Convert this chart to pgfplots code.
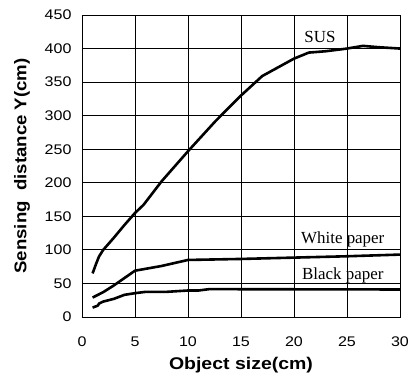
\documentclass[border=0pt]{standalone}
\usepackage{pgfplots}
\pgfplotsset{compat=1.18}
\usepackage{fontspec}
\setmainfont{Liberation Sans}
\newfontfamily\serifnm{Liberation Serif}
\usepackage{graphicx}
\begin{document}
\begin{tikzpicture}
\begin{axis}[
  scale only axis,
  width=318bp, height=302bp,
  at={(0,0)}, anchor=south west,
  xmin=0, xmax=30, ymin=0, ymax=450,
  xtick={0,5,...,30}, ytick={0,50,...,450},
  xmajorgrids=true, ymajorgrids=true,
  major grid style={draw=black, line width=0.8bp},
  axis line style={black, line width=0.8bp},
  tick style={black, line width=0.8bp},
  major tick length=2bp,
  tick align=inside,
  /pgf/number format/assume math mode=true,
  ticklabel style={font=\fontsize{14}{14}\selectfont},
  xticklabel={\scalebox{1.15}[1]{\pgfmathprintnumber{\tick}}},
  yticklabel={\scalebox{1.15}[1]{\pgfmathprintnumber{\tick}}},
  xticklabel style={yshift=-16bp},
  yticklabel style={xshift=-7bp},
  xlabel={\scalebox{1.15}[1]{\bfseries Object size(cm)}},
  ylabel={\scalebox{1.1}[1]{\bfseries Sensing\ \ distance Y(cm)}},
  label style={font=\fontsize{17}{17}\selectfont},
  xlabel style={at={(axis description cs:0.5,-0.159)}, anchor=center},
  ylabel style={at={(axis description cs:-0.1887,0.5)}, anchor=center},
  clip=false,
]
% SUS
\addplot[black, no markers, line width=2.6bp, line join=round] coordinates {
(1,65) (1.3,78) (1.6,90) (2,100) (3,118) (4,137) (5,155) (5.8,167)
(7.5,202) (10,247) (12.6,292) (15,330) (17,359) (18.5,372) (20,385)
(21.4,394) (23,396) (25,400) (26.5,404) (28,402) (30,400)};
% White paper
\addplot[black, no markers, line width=2.6bp, line join=round] coordinates {
(1,29) (2,37) (3,47) (4,58) (5,69) (7.5,76) (10,85) (15,86.5) (20,88.5) (25,90.5) (30,93)};
% Black paper
\addplot[black, no markers, line width=2.6bp, line join=round] coordinates {
(1,14) (1.5,17) (1.6,20) (2,23) (3,27) (4,33) (5,35.5) (6,37.5) (8,37.5) (10,39.5) (11,39.5) (12,41.5) (30,41)};
\node[font=\serifnm\fontsize{17}{17}\selectfont] at (axis cs:22.45,418) {SUS};
\node[font=\serifnm\fontsize{17}{17}\selectfont] at (axis cs:24.6,116) {White paper};
\node[font=\serifnm\fontsize{17}{17}\selectfont] at (axis cs:24.6,62.5) {Black paper};
\end{axis}
\pgfresetboundingbox
\path[use as bounding box] (-82bp,-61bp) rectangle (329bp,317bp);
\end{tikzpicture}
\end{document}
